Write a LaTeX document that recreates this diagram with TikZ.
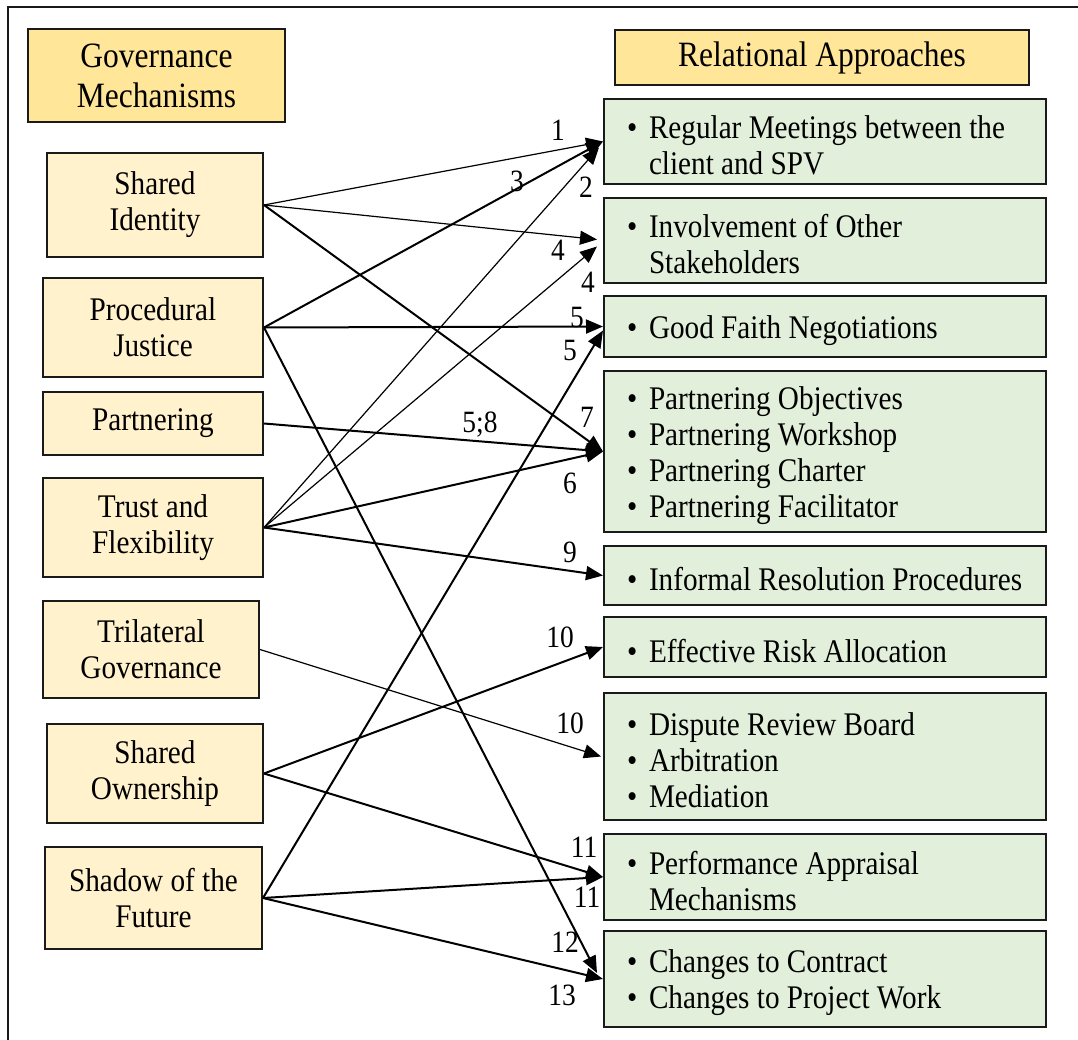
\documentclass[tikz,border=0pt]{standalone}
\usepackage{fontspec}
\setmainfont{Liberation Serif}[FakeStretch=0.885]
\usetikzlibrary{arrows.meta}

\definecolor{hdrgold}{HTML}{FFE699}
\definecolor{mechfill}{HTML}{FFF2CC}
\definecolor{apprfill}{HTML}{E2EFDA}
\definecolor{edge}{HTML}{1A1A1A}

% fixed word spacing for the condensed face
\newcommand\tightspace[1]{\spaceskip=#1\relax\xspaceskip=#1\relax}
\newcommand\hdrfont{\fontsize{35.6}{40}\selectfont\tightspace{7.9pt}}
\newcommand\bodyfont{\fontsize{33}{36}\selectfont\tightspace{7.3pt}\hyphenpenalty=10000\relax}
\newcommand\numfont{\fontsize{31}{34}\selectfont}
\newcommand\bul{\makebox[22pt][l]{\textbullet}}
\newcommand\ind{\hspace*{22pt}}
% taller first line lowers the item list a little inside its box;
% the word spacing is set again here, after the ragged-right setup
\newcommand\firstline{\tightspace{7.3pt}\vrule height 31pt depth 0pt width 0pt}

\tikzset{
  frame/.style={draw=edge, line width=2.5pt},
  hdr/.style={draw=edge, line width=2pt, fill=hdrgold, font=\hdrfont, align=center, inner sep=0pt},
  mech/.style={draw=edge, line width=2pt, fill=mechfill, font=\bodyfont, align=center, inner sep=0pt},
  appr/.style={draw=edge, line width=2pt, fill=apprfill, font=\bodyfont, align=left,
               inner xsep=23pt, inner ysep=0pt, text width=396pt, minimum width=442pt},
  lnk/.style={-{Triangle[length=17pt,width=14pt]}, line width=1.2pt},
  lnkb/.style={lnk, line width=2pt},
  num/.style={font=\numfont, inner sep=0pt}
}

\begin{document}
\begin{tikzpicture}[x=1pt, y=-1pt]
  \useasboundingbox (0,0) rectangle (1078,1040);
  \begin{scope}
    \clip (0,0) rectangle (1078,1040);
    \draw[frame] (8,7) rectangle (1100,1070);
  \end{scope}

  % headers
  \node[hdr, minimum width=257pt, minimum height=93pt] (gm) at (156.5,76) {Governance\\Mechanisms};
  \node[hdr, minimum width=414pt, minimum height=55pt] (ra) at (822,58) {Relational Approaches};

  % governance mechanisms
  \node[mech, minimum width=216pt, minimum height=104pt] (si) at (155,205)   {Shared\\Identity};
  \node[mech, minimum width=220pt, minimum height=99pt]  (pj) at (153,327.5) {Procedural\\Justice};
  \node[mech, minimum width=220pt, minimum height=63pt]  (pa) at (153,423.5) {Partnering};
  \node[mech, minimum width=220pt, minimum height=99pt]  (tf) at (153,527.5) {Trust and\\Flexibility};
  \node[mech, minimum width=216pt, minimum height=97pt]  (tg) at (151,649.5) {Trilateral\\Governance};
  \node[mech, minimum width=216pt, minimum height=99pt]  (so) at (155,773.5) {Shared\\Ownership};
  \node[mech, minimum width=217pt, minimum height=102pt] (sf) at (153.5,898) {Shadow of the\\Future};

  % relational approaches
  \node[appr, minimum height=85pt]  (rm) at (825,141.5) {\firstline\bul Regular Meetings between the\\\ind client and SPV};
  \node[appr, minimum height=85pt]  (iv) at (825,240.5) {\firstline\bul Involvement of Other\\\ind Stakeholders};
  \node[appr, minimum height=61pt]  (gf) at (825,326.5) {\firstline\bul Good Faith Negotiations};
  \node[appr, minimum height=161pt] (pt) at (825,451.5) {\firstline\bul Partnering Objectives\\\bul Partnering Workshop\\\bul Partnering Charter\\\bul Partnering Facilitator};
  \node[appr, minimum height=59pt]  (ir) at (825,575.5) {\firstline\bul \mbox{Informal Resolution Procedures}};
  \node[appr, minimum height=60pt]  (er) at (825,647)   {\firstline\bul Effective Risk Allocation};
  \node[appr, minimum height=127pt] (dr) at (825,756.5) {\firstline\bul Dispute Review Board\\\bul Arbitration\\\bul Mediation};
  \node[appr, minimum height=86pt]  (pm) at (825,877)   {\firstline\bul Performance Appraisal\\\ind Mechanisms};
  \node[appr, minimum height=96pt]  (cc) at (825,979)   {\firstline\bul Changes to Contract\\\bul Changes to Project Work};

  % links
  \draw[lnk]  (si.east) -- (rm.west);
  \draw[lnk]  (si.east) -- ([xshift=-6pt,yshift=1pt]iv.west);
  \draw[lnkb] (si.east) -- (pt.west);
  \draw[lnkb] (pj.east) -- (rm.west);
  \draw[lnkb] (pj.east) -- (gf.west);
  \draw[lnkb] (pj.east) -- ([xshift=-6pt,yshift=6pt]cc.west);
  \draw[lnkb] (pa.east) -- (pt.west);
  \draw[lnk]  (tf.east) -- ([xshift=-4pt,yshift=-6pt]rm.west);
  \draw[lnk]  (tf.east) -- ([xshift=-6pt,yshift=-6pt]iv.west);
  \draw[lnkb] (tf.east) -- (pt.west);
  \draw[lnkb] (tf.east) -- (ir.west);
  \draw[lnk]  (tg.east) -- ([xshift=-2pt]dr.west);
  \draw[lnkb] (so.east) -- (er.west);
  \draw[lnkb] (so.east) -- (pm.west);
  \draw[lnkb] (sf.east) -- ([yshift=-4pt]gf.west);
  \draw[lnkb] (sf.east) -- (pm.west);
  \draw[lnkb] (sf.east) -- (cc.west);

  % link numbers
  \node[num] (n1)  at (558,130) {1};
  \node[num] (n3)  at (517,181) {3};
  \node[num] (n2)  at (586,187) {2};
  \node[num] (n4a) at (558,250) {4};
  \node[num] (n4b) at (588,282) {4};
  \node[num] (n5a) at (577,318) {5};
  \node[num] (n5b) at (570,351) {5};
  \node[num] (n7)  at (587,417) {7};
  \node[num] (n58) at (480,425) {5;8};
  \node[num] (n6)  at (570,483) {6};
  \node[num] (n9)  at (570,552) {9};
  \node[num] (n10a) at (560,637) {10};
  \node[num] (n10b) at (570,723) {10};
  \node[num] (n11a) at (584,847) {11};
  \node[num] (n11b) at (587,897) {11};
  \node[num] (n12) at (565,942) {12};
  \node[num] (n13) at (562,995) {13};
\end{tikzpicture}
\end{document}
